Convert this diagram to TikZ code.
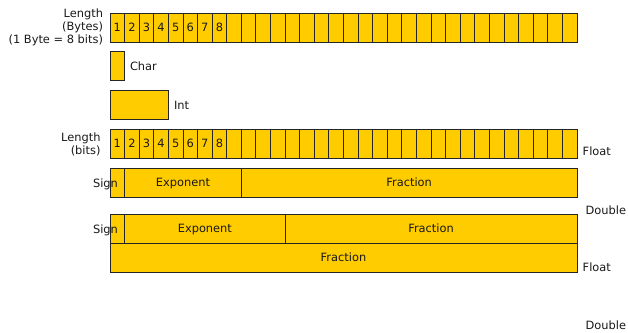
\documentclass[tikz,border=0pt]{standalone}
\usepackage{fontspec}
\setmainfont{DejaVu Sans}
\definecolor{fillY}{HTML}{FFCC00}
\newcommand{\fs}{\fontsize{11.45pt}{13.05pt}\selectfont}
\begin{document}
\begin{tikzpicture}[x=1bp,y=-1bp,
  cell/.style={draw=black!85, line width=0.9bp, fill=fillY, rectangle, inner sep=0pt, outer sep=0pt,
    anchor=north west, minimum height=29bp, font=\fs, text=black!90, text height=8.3bp, text depth=0pt},
  lbl/.style={inner sep=0pt, outer sep=0pt, font=\fs, text=black!90, text height=8.3bp, text depth=0pt},
  mlbl/.style={inner sep=0pt, outer sep=0pt, font=\fs, text=black!90, align=right}]
\useasboundingbox (0,0) rectangle (628,332);
\def\cw{14.59375}
% byte row
\foreach \i in {0,...,31}{
  \pgfmathtruncatemacro{\n}{\i+1}
  \ifnum\i<8
    \node[cell, minimum width=\cw bp] (b\n) at ({110+\i*\cw},13) {\n};
  \else
    \node[cell, minimum width=\cw bp] (b\n) at ({110+\i*\cw},13) {};
  \fi
}
\node[mlbl, anchor=east] (lenbytes) at (103,27.5) {Length\\(Bytes)\\(1 Byte = 8 bits)};
% char and int
\node[cell, minimum width=\cw bp] (char) at (110,51) {};
\node[lbl, anchor=west] (charl) at (130,66) {Char};
\node[cell, minimum width=58.375bp] (int) at (110,90) {};
\node[lbl, anchor=west] (intl) at (174,105) {Int};
% bit row
\foreach \i in {0,...,31}{
  \pgfmathtruncatemacro{\n}{\i+1}
  \ifnum\i<8
    \node[cell, minimum width=\cw bp] (t\n) at ({110+\i*\cw},129) {\n};
  \else
    \node[cell, minimum width=\cw bp] (t\n) at ({110+\i*\cw},129) {};
  \fi
}
\node[mlbl, anchor=east] (lenbits) at (100.5,144) {Length\\(bits)};
\node[lbl, anchor=west] (float1) at (582.7,151) {Float};
% float layout
\node[cell, minimum width=\cw bp] (fs) at (110,168) {};
\node[cell, minimum width=116.75bp] (fe) at (124.59375,168) {Exponent};
\node[cell, minimum width=335.65625bp] (ff) at (241.34375,168) {Fraction};
\node[lbl] (sign1) at (105.5,183) {Sign};
\node[lbl, anchor=west] (double1) at (585.7,210) {Double};
% double layout
\node[cell, minimum width=\cw bp] (ds) at (110,214) {};
\node[cell, minimum width=160.53125bp] (de) at (124.59375,214) {Exponent};
\node[cell, minimum width=291.875bp] (df) at (285.125,214) {Fraction};
\node[lbl] (sign2) at (105.5,229) {Sign};
\node[cell, minimum width=467bp] (df2) at (110,243) {Fraction};
\node[lbl, anchor=west] (float2) at (582.7,267.5) {Float};
\node[lbl, anchor=west] (double2) at (585.7,325.5) {Double};
\end{tikzpicture}
\end{document}
